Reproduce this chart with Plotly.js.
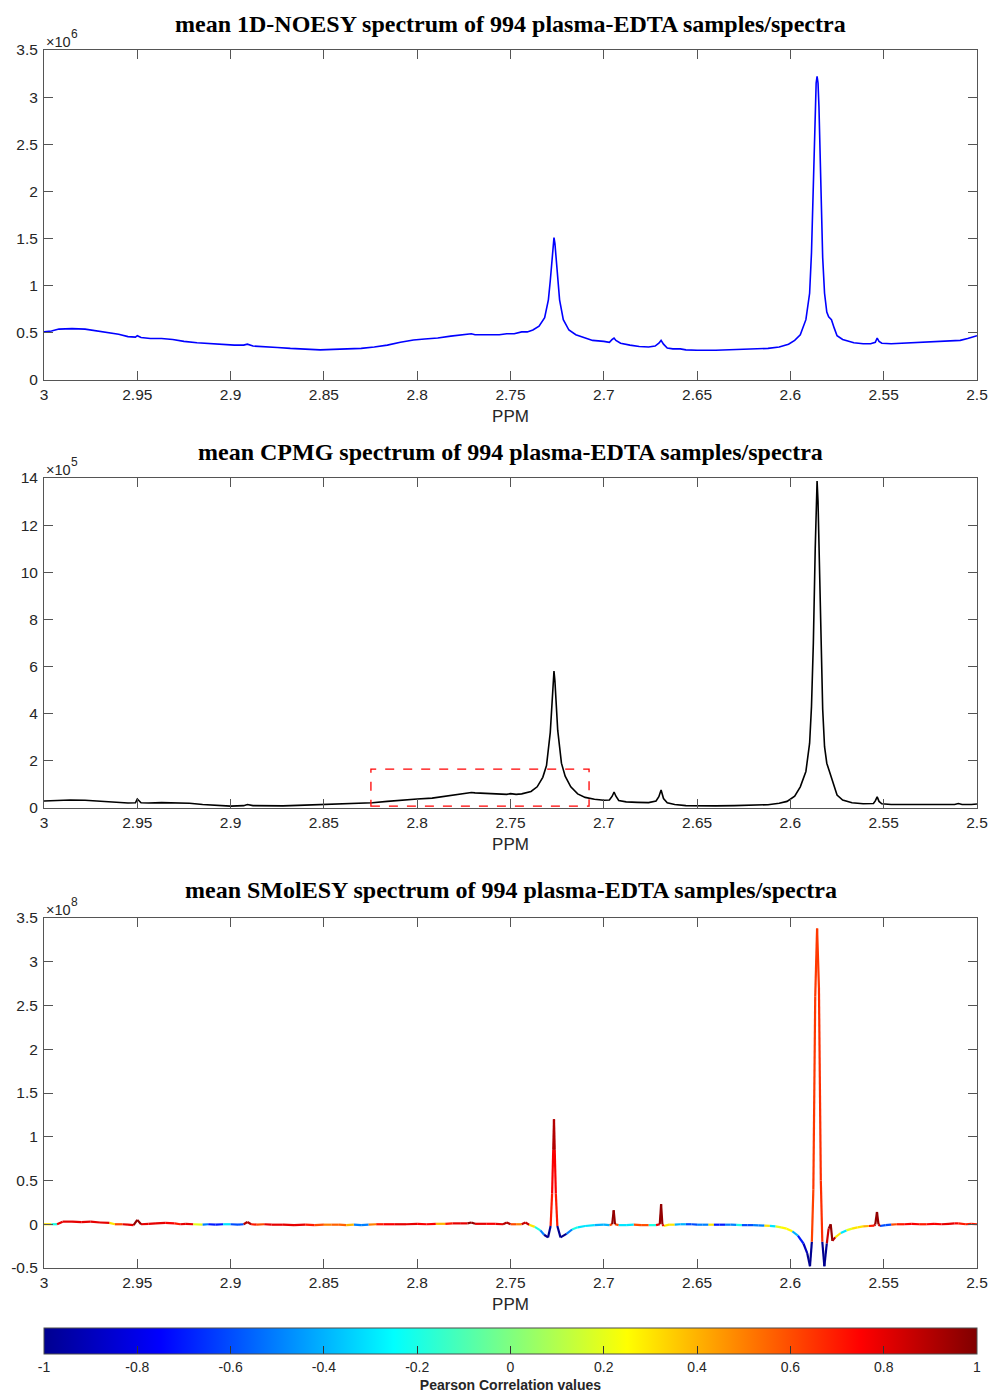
<!DOCTYPE html>
<html><head><meta charset="utf-8">
<script src="https://cdn.plot.ly/plotly-3.0.1.min.js"></script>
<style>body{margin:0;background:#fff}#chart{width:995px;height:1400px}</style>
</head><body><div id="chart"></div>
<script>
// ---------- tick labels ----------
const xTickVals = [3, 2.95, 2.9, 2.85, 2.8, 2.75, 2.7, 2.65, 2.6, 2.55, 2.5];
const xTickText = ['3', '2.95', '2.9', '2.85', '2.8', '2.75', '2.7', '2.65', '2.6', '2.55', '2.5'];
const noesyYTicks = [0, 0.5, 1, 1.5, 2, 2.5, 3, 3.5];
const cpmgYTicks = [0, 2, 4, 6, 8, 10, 12, 14];
const smolYTicks = [-0.5, 0, 0.5, 1, 1.5, 2, 2.5, 3, 3.5];
const smolYTickText = ['-0.5', '0', '0.5', '1', '1.5', '2', '2.5', '3', '3.5'];
const cbTickVals = [-1, -0.8, -0.6, -0.4, -0.2, 0, 0.2, 0.4, 0.6, 0.8, 1];
const cbTickText = ['-1', '-0.8', '-0.6', '-0.4', '-0.2', '0', '0.2', '0.4', '0.6', '0.8', '1'];

// ---------- mean 1D-NOESY spectrum (intensity x 1e6) ----------
const noesyPpm = [3.000,2.996,2.992,2.985,2.978,2.972,2.966,2.960,2.955,2.951,2.950,2.948,2.943,2.937,2.931,2.925,2.918,2.911,2.905,2.898,2.893,2.891,2.888,2.882,2.875,2.868,2.860,2.852,2.845,2.838,2.830,2.823,2.816,2.809,2.802,2.796,2.789,2.782,2.776,2.771,2.769,2.762,2.756,2.752,2.748,2.744,2.741,2.738,2.7347,2.7317,2.7297,2.7287,2.7277,2.7272,2.7267,2.7262,2.7257,2.7247,2.7237,2.7217,2.7187,2.715,2.711,2.706,2.700,2.697,2.6955,2.6945,2.6935,2.691,2.686,2.681,2.676,2.6725,2.6705,2.6693,2.668,2.666,2.663,2.659,2.656,2.650,2.640,2.630,2.620,2.612,2.606,2.601,2.5977,2.5947,2.5917,2.5897,2.5887,2.5877,2.5867,2.5862,2.5857,2.5852,2.5847,2.5837,2.5827,2.5817,2.5805,2.5795,2.578,2.5765,2.575,2.572,2.566,2.561,2.557,2.5545,2.5535,2.5525,2.551,2.546,2.540,2.533,2.526,2.519,2.513,2.509,2.505,2.500];
const noesyVal = [0.51,0.52,0.54,0.545,0.54,0.52,0.50,0.485,0.46,0.455,0.47,0.45,0.44,0.44,0.43,0.41,0.395,0.385,0.375,0.37,0.37,0.38,0.36,0.35,0.345,0.335,0.325,0.32,0.325,0.33,0.335,0.35,0.37,0.40,0.425,0.435,0.445,0.465,0.48,0.49,0.48,0.48,0.48,0.49,0.49,0.51,0.51,0.53,0.57,0.66,0.85,1.05,1.33,1.45,1.51,1.45,1.33,1.05,0.85,0.64,0.53,0.48,0.45,0.42,0.41,0.40,0.43,0.445,0.42,0.39,0.37,0.355,0.35,0.36,0.39,0.42,0.38,0.34,0.33,0.33,0.32,0.315,0.315,0.32,0.325,0.335,0.35,0.38,0.42,0.48,0.64,0.92,1.35,2.1,2.9,3.15,3.22,3.15,2.9,2.0,1.3,0.92,0.72,0.67,0.64,0.55,0.47,0.43,0.395,0.385,0.385,0.40,0.445,0.41,0.39,0.385,0.39,0.395,0.40,0.405,0.41,0.42,0.44,0.47];

// ---------- mean CPMG spectrum (intensity x 1e5) ----------
const cpmgPpm = [3.000,2.994,2.986,2.978,2.970,2.962,2.955,2.951,2.950,2.948,2.944,2.937,2.930,2.922,2.915,2.908,2.900,2.893,2.891,2.888,2.880,2.872,2.864,2.856,2.848,2.840,2.832,2.824,2.816,2.808,2.800,2.792,2.784,2.777,2.771,2.769,2.762,2.756,2.752,2.750,2.747,2.744,2.742,2.739,2.7357,2.7327,2.7307,2.7297,2.7287,2.7277,2.7272,2.7267,2.7262,2.7257,2.7247,2.7237,2.7227,2.7207,2.7177,2.714,2.710,2.705,2.700,2.697,2.6955,2.6945,2.6935,2.692,2.688,2.682,2.676,2.672,2.6705,2.6693,2.668,2.666,2.662,2.656,2.648,2.640,2.630,2.620,2.612,2.606,2.6018,2.5977,2.5947,2.5917,2.5897,2.5887,2.5877,2.5867,2.5862,2.5857,2.5852,2.5847,2.5837,2.5827,2.5817,2.5805,2.5795,2.5785,2.577,2.575,2.572,2.567,2.561,2.5555,2.5545,2.5535,2.5525,2.551,2.546,2.540,2.532,2.524,2.517,2.512,2.510,2.508,2.503,2.500];
const cpmgVal = [0.30,0.33,0.34,0.33,0.28,0.23,0.21,0.22,0.38,0.22,0.21,0.23,0.23,0.20,0.15,0.11,0.08,0.10,0.15,0.10,0.08,0.09,0.11,0.13,0.15,0.17,0.19,0.22,0.28,0.34,0.38,0.42,0.50,0.58,0.66,0.64,0.62,0.60,0.58,0.61,0.58,0.60,0.64,0.70,0.90,1.30,1.80,2.60,3.20,4.50,5.30,5.81,5.40,4.60,3.30,2.60,1.90,1.35,0.90,0.60,0.45,0.37,0.33,0.34,0.50,0.68,0.50,0.32,0.26,0.24,0.23,0.30,0.48,0.76,0.40,0.22,0.15,0.10,0.09,0.09,0.10,0.11,0.14,0.20,0.28,0.50,0.90,1.55,2.75,4.30,7.00,11.0,13.0,13.87,13.0,11.2,7.0,4.2,2.6,1.9,1.65,1.4,0.95,0.55,0.34,0.22,0.18,0.19,0.30,0.47,0.28,0.18,0.15,0.14,0.15,0.15,0.14,0.15,0.19,0.15,0.15,0.17];
// dashed region marked on the CPMG panel: [ppm left, ppm right, low, high]
const zoomBox = [2.8248, 2.7079, 0.08, 1.65];

// ---------- mean SMolESY spectrum (intensity x 1e8) and Pearson correlation ----------
const smolPpm = [
  3.000,2.996,2.993,2.990,2.985,2.980,2.975,2.970,2.965,2.962,
  2.958,2.955,2.952,2.950,2.948,2.944,2.940,2.935,2.930,2.927,
  2.924,2.920,2.915,2.912,2.908,2.904,2.900,2.896,2.893,2.891,
  2.889,2.886,2.882,2.878,2.872,2.866,2.860,2.855,2.850,2.846,
  2.842,2.838,2.834,2.830,2.826,2.822,2.818,2.812,2.806,2.800,
  2.795,2.790,2.785,2.781,2.777,2.773,2.771,2.769,2.763,2.758,
  2.754,2.752,2.750,2.747,2.744,2.742,2.740,2.737,2.734,2.732,
  2.7299,2.7285,2.7277,2.7271,2.7267,2.7263,2.7257,2.7249,2.7232,2.720,
  2.717,2.714,2.710,2.705,2.700,2.697,2.6955,2.6947,2.694,2.692,
  2.688,2.684,2.680,2.676,2.672,2.6700,2.6693,2.6686,2.668,2.665,
  2.662,2.659,2.656,2.653,2.650,2.647,2.644,2.641,2.638,2.635,
  2.632,2.629,2.626,2.623,2.620,2.617,2.614,2.611,2.608,2.605,
  2.602,2.599,2.596,2.593,2.591,2.5895,2.5885,2.5877,2.5867,2.5857,
  2.5847,2.5837,2.5829,2.5818,2.5805,2.5795,2.5784,2.5775,2.576,2.573,
  2.570,2.567,2.564,2.561,2.558,2.555,2.5545,2.5536,2.5528,2.552,
  2.549,2.546,2.543,2.539,2.535,2.531,2.527,2.523,2.519,2.515,
  2.512,2.510,2.506,2.503,2.500];
const smolVal = [
  0.00,0.00,0.00,0.03,0.03,0.025,0.03,0.02,0.015,0.00,
  0.00,-0.005,-0.01,0.05,0.00,0.005,0.01,0.015,0.01,0.00,
  0.005,0.00,-0.005,0.00,-0.005,0.00,0.00,-0.005,0.00,0.025,
  0.00,-0.005,0.00,-0.005,-0.005,-0.01,-0.005,-0.01,-0.005,-0.005,
  -0.005,-0.01,-0.005,-0.01,-0.005,0.00,0.00,0.00,0.00,0.005,
  0.00,0.005,0.005,0.01,0.01,0.01,0.02,0.005,0.005,0.005,
  0.00,0.02,0.00,0.00,0.00,0.02,-0.005,-0.03,-0.07,-0.12,
  -0.15,-0.02,0.35,0.85,1.20,0.85,0.35,-0.02,-0.15,-0.11,
  -0.06,-0.035,-0.02,-0.01,-0.005,-0.01,0.00,0.16,0.00,-0.01,
  -0.01,-0.005,-0.01,-0.01,-0.01,0.00,0.23,0.00,-0.02,-0.005,
  -0.005,0.00,0.00,0.00,-0.005,-0.005,-0.005,-0.005,-0.005,-0.005,
  -0.005,-0.008,-0.01,-0.01,-0.01,-0.012,-0.015,-0.018,-0.025,-0.035,
  -0.05,-0.08,-0.13,-0.22,-0.33,-0.48,-0.20,0.40,2.60,3.38,
  2.70,0.50,-0.20,-0.48,-0.22,-0.05,0.00,-0.19,-0.15,-0.10,
  -0.07,-0.05,-0.035,-0.025,-0.02,-0.015,0.00,0.14,0.00,-0.02,
  -0.01,-0.005,0.00,0.00,0.005,0.00,0.00,0.005,0.00,0.005,
  0.01,0.01,0.00,0.005,0.00];
const smolCorr = [
  0.3,-0.2,0.2,0.8,0.75,0.8,0.7,0.8,0.3,-0.1,
  0.6,0.8,0.75,0.95,0.8,0.7,0.8,0.75,0.7,0.4,
  0.8,0.2,-0.2,-0.5,-0.7,-0.3,0.1,-0.6,0.3,0.9,
  0.7,-0.3,0.6,0.8,0.75,0.8,0.7,0.6,0.5,0.3,
  0.55,0.4,-0.1,-0.5,0.2,0.5,0.7,0.75,0.8,0.7,
  0.75,0.4,0.2,0.7,0.8,0.75,0.95,0.8,0.7,0.75,
  0.8,0.9,0.6,0.3,0.5,0.85,0.3,0.1,-0.2,-0.5,
  -1.0,0.6,0.7,0.75,0.9,0.75,0.7,0.6,-1.0,-0.5,
  -0.2,0.1,-0.3,0.2,-0.4,-0.1,0.6,0.95,0.6,0.1,
  -0.3,0.2,0.6,-0.2,0.1,0.8,0.95,0.8,0.3,0.1,
  0.3,-0.4,0.2,-0.6,0.0,-0.5,0.3,-0.3,-0.7,0.1,
  -0.5,-0.2,0.2,-0.6,-0.1,-0.5,0.3,-0.3,0.2,-0.2,
  0.25,-0.1,-0.4,-0.7,-0.9,-1.0,0.58,0.62,0.64,0.62,
  0.64,0.66,0.55,-1.0,0.7,0.85,0.95,0.9,0.3,-0.3,
  0.2,-0.2,0.3,-0.1,0.4,0.7,0.85,0.95,0.85,-0.4,
  -0.6,0.2,0.6,0.7,0.75,0.7,0.4,0.75,0.7,0.8,
  0.75,0.7,0.5,0.7,0.7];

// ---------- styling ----------
const jetScale = [[0,'#000090'],[0.125,'#0000ff'],[0.375,'#00ffff'],[0.625,'#ffff00'],[0.875,'#ff0000'],[1,'#800000']];
function hexToRgb(h){return [parseInt(h.slice(1,3),16),parseInt(h.slice(3,5),16),parseInt(h.slice(5,7),16)];}
function jetColor(v){
  const t = Math.max(0, Math.min(1, (v + 1) / 2));
  for (let k = 1; k < jetScale.length; k++) {
    if (t <= jetScale[k][0]) {
      const a = jetScale[k-1], b = jetScale[k];
      const f = (t - a[0]) / (b[0] - a[0]);
      const ca = hexToRgb(a[1]), cb = hexToRgb(b[1]);
      return 'rgb(' + ca.map((c, j) => Math.round(c + f * (cb[j] - c))).join(',') + ')';
    }
  }
  return jetScale[jetScale.length-1][1];
}

const traces = [];
traces.push({x: noesyPpm, y: noesyVal, xaxis: 'x', yaxis: 'y', mode: 'lines',
  line: {color: '#0000ff', width: 1.6}, hoverinfo: 'skip', showlegend: false});
traces.push({x: cpmgPpm, y: cpmgVal, xaxis: 'x2', yaxis: 'y2', mode: 'lines',
  line: {color: '#000000', width: 1.6}, hoverinfo: 'skip', showlegend: false});

// SMolESY line coloured segment-by-segment by correlation (grouped into colour bins)
const bins = {};
for (let i = 0; i < smolPpm.length - 1; i++) {
  const c = Math.abs(smolCorr[i]) >= Math.abs(smolCorr[i+1]) ? smolCorr[i] : smolCorr[i+1];
  const key = Math.round(c * 50) / 50;
  if (!bins[key]) bins[key] = {x: [], y: []};
  bins[key].x.push(smolPpm[i], smolPpm[i+1], null);
  bins[key].y.push(smolVal[i], smolVal[i+1], null);
}
Object.keys(bins).forEach(k => {
  traces.push({x: bins[k].x, y: bins[k].y, xaxis: 'x3', yaxis: 'y3', mode: 'lines',
    connectgaps: false, line: {color: jetColor(parseFloat(k)), width: 2.2},
    hoverinfo: 'skip', showlegend: false});
});
// colour bar carrier
traces.push({x: smolPpm, y: smolVal, xaxis: 'x3', yaxis: 'y3', mode: 'markers',
  hoverinfo: 'skip', showlegend: false,
  marker: {size: 0, opacity: 0, color: smolCorr, colorscale: jetScale, cmin: -1, cmax: 1, showscale: true,
    colorbar: {orientation: 'h', x: 0.5, xanchor: 'center', len: 1, lenmode: 'fraction',
      y: 1 - 1328/1400, yanchor: 'top', thickness: 26, xpad: 0, ypad: 0,
      outlinewidth: 1, outlinecolor: '#4d4d4d',
      ticks: 'inside', ticklen: 8, tickcolor: '#333', tickvals: cbTickVals, ticktext: cbTickText,
      ticklabelstandoff: 4,
      tickfont: {family: 'Liberation Sans Narrow, Arial Narrow, Liberation Sans, Arial', size: 14, color: '#262626'},
      title: {text: '<b>Pearson Correlation values</b>', side: 'bottom',
        font: {family: 'Liberation Sans, Arial, sans-serif', size: 14, color: '#262626'}}}}});

const tickFont = {family: 'Liberation Sans, Arial, Helvetica, sans-serif', size: 15.5, color: '#262626'};
const axBase = {showline: true, linecolor: '#555', linewidth: 1, mirror: 'ticks', ticks: 'inside',
  ticklen: 9, tickcolor: '#555', tickwidth: 1, showgrid: false, zeroline: false, tickfont: tickFont};
function xAx(anchor){ return Object.assign({}, axBase, {anchor: anchor, domain: [0, 1], range: [3, 2.5],
  tickmode: 'array', tickvals: xTickVals, ticktext: xTickText, ticklabelstandoff: 0,
  title: {text: 'PPM', font: {family: 'Liberation Sans, Arial, sans-serif', size: 17, color: '#262626'}, standoff: 8}}); }
function yAx(anchor, dom, rng, tv, tt){ return Object.assign({}, axBase, {anchor: anchor, domain: dom, range: rng,
  tickmode: 'array', tickvals: tv, ticktext: tt || tv.map(String), ticklabelstandoff: 2}); }

const titleFont = {family: 'Liberation Serif, Times New Roman, serif', size: 24, color: '#000'};
const expFont = {family: 'Liberation Sans, Arial, sans-serif', size: 14.5, color: '#262626'};
const supFont = {family: 'Liberation Sans, Arial, sans-serif', size: 12, color: '#262626'};
function expAnn(topPx, digit){
  return [
    {xref: 'paper', yref: 'paper', x: 0.001, xanchor: 'left', y: 1-(topPx+1)/1400, yanchor: 'bottom',
      showarrow: false, font: expFont, text: '×10', borderpad: 0},
    {xref: 'paper', yref: 'paper', x: 26/933, xanchor: 'left', y: 1-(topPx-8)/1400, yanchor: 'bottom',
      showarrow: false, font: supFont, text: digit, borderpad: 0}];
}
const layout = {
  width: 995, height: 1400, paper_bgcolor: '#fff', plot_bgcolor: '#fff',
  margin: {l: 44, r: 18, t: 0, b: 0},
  xaxis: xAx('y'), yaxis: yAx('x', [1-380/1400, 1-50/1400], [0, 3.5], noesyYTicks),
  xaxis2: xAx('y2'), yaxis2: yAx('x2', [1-808/1400, 1-478/1400], [0, 14], cpmgYTicks),
  xaxis3: xAx('y3'), yaxis3: yAx('x3', [1-1268/1400, 1-918/1400], [-0.5, 3.5], smolYTicks, smolYTickText),
  shapes: [{type: 'rect', xref: 'x2', yref: 'y2', x0: zoomBox[0], x1: zoomBox[1], y0: zoomBox[2], y1: zoomBox[3],
    line: {color: '#ff0000', width: 1.3, dash: 'dash'}}],
  annotations: [
    {xref: 'paper', yref: 'paper', x: 0.5, y: 1-24/1400, yanchor: 'middle', showarrow: false, font: titleFont,
      text: '<b>mean 1D-NOESY spectrum of 994 plasma-EDTA samples/spectra</b>'},
    {xref: 'paper', yref: 'paper', x: 0.5, y: 1-452/1400, yanchor: 'middle', showarrow: false, font: titleFont,
      text: '<b>mean CPMG spectrum of 994 plasma-EDTA samples/spectra</b>'},
    {xref: 'paper', yref: 'paper', x: 0.5, y: 1-890/1400, yanchor: 'middle', showarrow: false, font: titleFont,
      text: '<b>mean SMolESY spectrum of 994 plasma-EDTA samples/spectra</b>'}
  ].concat(expAnn(50, '6'), expAnn(478, '5'), expAnn(918, '8'))
};
Plotly.newPlot('chart', traces, layout, {displayModeBar: false, staticPlot: true});
</script>
</body></html>
